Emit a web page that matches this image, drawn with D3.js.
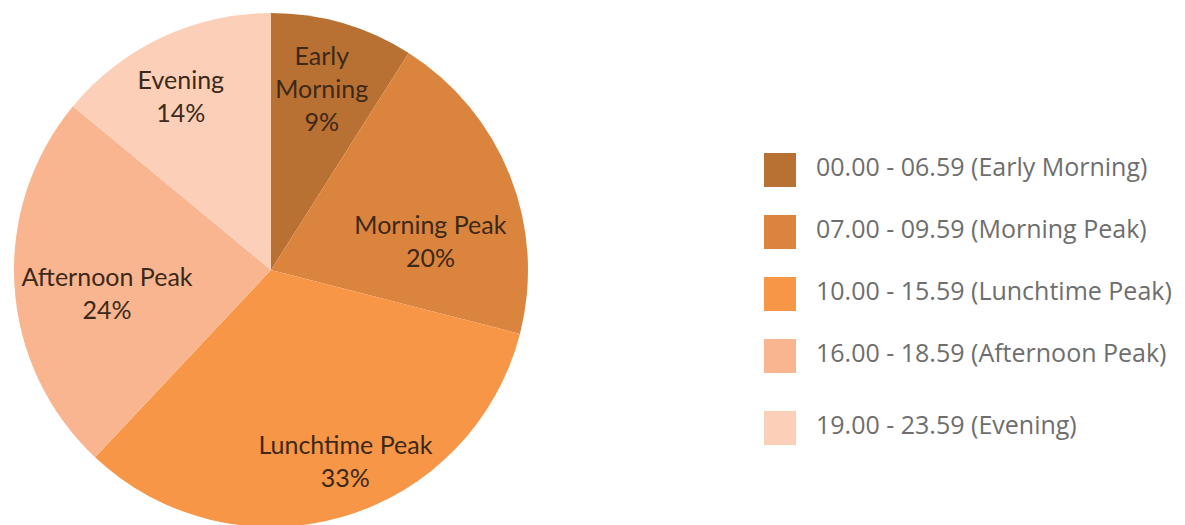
<!DOCTYPE html>
<html>
<head>
<meta charset="utf-8">
<script src="https://cdn.jsdelivr.net/npm/d3@7"></script>
<style>
  body { margin: 0; background: #fff; }
  svg { display: block; }
</style>
</head>
<body>
<div id="chart"></div>
<script>
// data
var slices = ["Early Morning", "Morning Peak", "Lunchtime Peak", "Afternoon Peak", "Evening"];
var sliceLabels = [["Early", "Morning"], ["Morning Peak"], ["Lunchtime Peak"], ["Afternoon Peak"], ["Evening"]];
var shares = [9, 20, 33, 24, 14];
var legendLabels = [
    "00.00 - 06.59 (Early Morning)",
    "07.00 - 09.59 (Morning Peak)",
    "10.00 - 15.59 (Lunchtime Peak)",
    "16.00 - 18.59 (Afternoon Peak)",
    "19.00 - 23.59 (Evening)"
];
var colours = ["#b87033", "#db843d", "#f79646", "#f9b58f", "#fbcfb8"];

// label placement, excel "best fit" style: [radius fraction, angle shift in degrees]
var labelPlacement = [[0.73, -0.5], [0.63, 11.5], [0.80, -5], [0.645, -4.7], [0.76, -2.3]];

var width = 1185, height = 525;
var cx = 271, cy = 270, radius = 257;

var svg = d3.select("#chart").append("svg")
    .attr("width", width).attr("height", height);

var colour = d3.scaleOrdinal().domain(slices).range(colours);

var pie = d3.pie().sort(null).value(function(d){ return d.value; });
var arc = d3.arc().innerRadius(0).outerRadius(radius);

var data = slices.map(function(s, i){ return {name: s, value: shares[i], lines: sliceLabels[i], place: labelPlacement[i]}; });

var g = svg.append("g").attr("transform", "translate(" + cx + "," + cy + ")");

g.selectAll("path")
    .data(pie(data))
    .enter()
    .append("path")
    .attr("d", arc)
    .attr("fill", function(d){ return colour(d.data.name); });

var lineH = 33;

g.selectAll("text.lbl")
    .data(pie(data))
    .enter()
    .append("text")
    .attr("class", "lbl")
    .attr("text-anchor", "middle")
    .style("font-family", "Lato, 'Open Sans', sans-serif")
    .style("font-size", "25px")
    .attr("fill", "#3d2919")
    .each(function(d){
        var r = radius * d.data.place[0];
        var shift = d.data.place[1] * Math.PI / 180;
        var a = (d.startAngle + d.endAngle) / 2 + shift;
        var c = d3.arc().innerRadius(r).outerRadius(r).startAngle(a).endAngle(a).centroid();
        var lines = d.data.lines.concat([d.data.value + "%"]);
        var top = c[1] - (lines.length - 1) * lineH / 2;
        var t = d3.select(this);
        lines.forEach(function(l, j){
            t.append("tspan")
                .attr("x", c[0])
                .attr("y", top + j * lineH)
                .attr("dy", "0.35em")
                .text(l);
        });
    });

// legend
var legend = svg.append("g").attr("transform", "translate(764,153)");
var rowY = function(i){ return i * 62 + (i === 4 ? 10 : 0); };

var items = legend.selectAll("g")
    .data(legendLabels)
    .enter()
    .append("g")
    .attr("transform", function(d, i){ return "translate(0," + rowY(i) + ")"; });

items.append("rect")
    .attr("width", 32).attr("height", 34)
    .attr("fill", function(d, i){ return colours[i]; });

items.append("text")
    .attr("x", 52).attr("y", 14)
    .attr("dy", "0.35em")
    .style("font-family", "'Open Sans', sans-serif")
    .style("font-size", "25px")
    .attr("fill", "#6e6e6e")
    .text(function(d){ return d; });
</script>
</body>
</html>
